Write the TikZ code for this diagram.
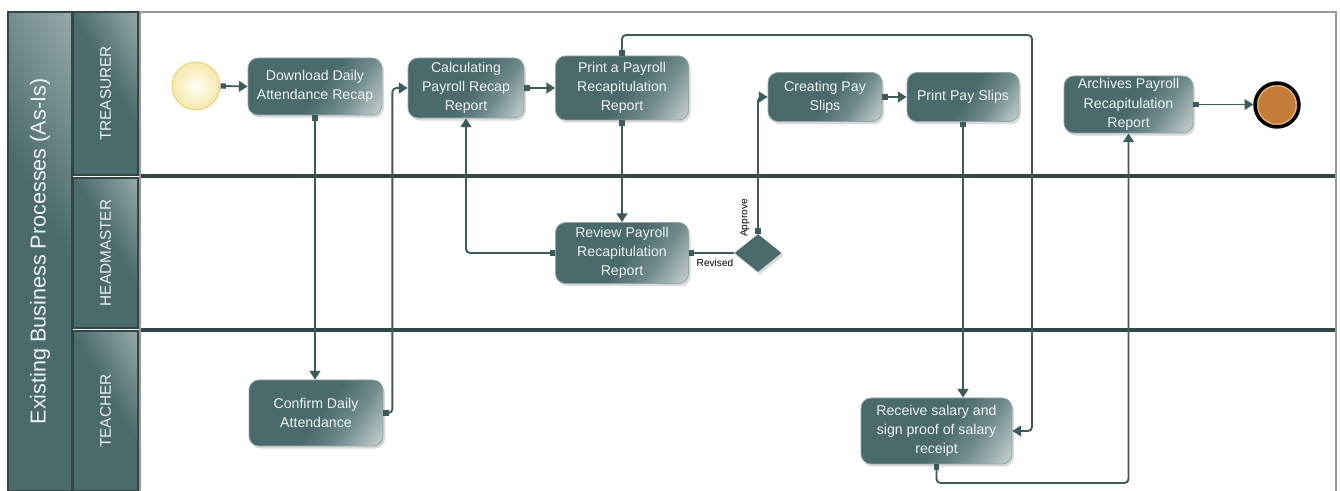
\documentclass[tikz,border=0pt]{standalone}
\usepackage{fontspec}
\setmainfont{Liberation Sans}
\usetikzlibrary{arrows.meta,shapes.geometric,shadows,calc}
\definecolor{boxc}{HTML}{4B6A6B}
\definecolor{boxm}{HTML}{6F8A8B}
\definecolor{boxl}{HTML}{BCC8C8}
\definecolor{lanel}{HTML}{98ABAB}
\definecolor{linec}{HTML}{3E5B5C}
\definecolor{sepc}{HTML}{334646}
\definecolor{txtc}{HTML}{EEF2F2}
\definecolor{poolc}{HTML}{9A9A9A}
\definecolor{endc}{HTML}{C47D38}
\definecolor{endr}{HTML}{E3B47A}
\pgfdeclarehorizontalshading{boxshade}{100bp}{color(0bp)=(boxc); color(52bp)=(boxc); color(66bp)=(boxm); color(82bp)=(boxl); color(100bp)=(boxl)}
\pgfdeclarehorizontalshading{laneshade}{100bp}{color(0bp)=(boxc); color(55bp)=(boxc); color(85bp)=(lanel); color(100bp)=(lanel)}
\tikzset{
  task/.style={rounded corners=7.5pt, shade, shading=boxshade, shading angle=-35,
    draw=boxc!60!white, line width=0.6pt, text=txtc, align=center,
    font=\fontsize{10.6}{14.4}\selectfont, inner sep=0pt,
    drop shadow={shadow xshift=1.5pt, shadow yshift=-2pt, opacity=0.15, fill=black}},
  lanehead/.style={rotate=90, shade, shading=laneshade, shading angle=30, draw=sepc,
    line width=0.8pt, text=txtc, inner sep=0pt, font=\fontsize{11.5}{13}\selectfont},
  conn/.style={draw=linec, line width=1.4pt, rounded corners=3pt,
    arrows={Square[length=4pt,width=4pt]-Triangle[length=6.5pt,width=8pt]}},
  plainconn/.style={draw=linec, line width=1.4pt,
    arrows={Square[length=4pt,width=4pt]-}},
  small/.style={font=\fontsize{7.6}{9}\selectfont, text=black, inner sep=0pt}
}
\begin{document}
\begin{tikzpicture}[x=0.75pt,y=-0.75pt]
\useasboundingbox (0,0) rectangle (1340,491);
% pool
\fill[white] (140,12) rectangle (1336,491);
\draw[poolc, line width=2pt] (140,495) -- (140,12) -- (1336,12) -- (1336,495);
\draw[sepc, line width=3pt] (141,176) -- (1335,176);
\draw[sepc, line width=3pt] (141,330) -- (1335,330);
% title band and lane headers
\node[lanehead, minimum width=359.25pt, minimum height=48pt, font=\fontsize{16.2}{18}\selectfont] (title) at (40,251.5) {Existing Business Processes (As-Is)};
\node[lanehead, minimum width=122.25pt, minimum height=48.75pt] (ltre) at (105.5,93.5) {TREASURER};
\node[lanehead, minimum width=112.5pt, minimum height=48.75pt] (lhead) at (105.5,253) {HEADMASTER};
\node[lanehead, minimum width=120pt, minimum height=48.75pt] (lteach) at (105.5,411) {TEACHER};
% events
\node[circle, minimum size=36pt, inner sep=0pt, inner color=yellow!4, outer color={rgb,255:red,245;green,232;blue,170}, draw={rgb,255:red,232;green,214;blue,130}, line width=0.8pt] (start) at (196,86) {};
\node[circle, minimum size=33pt, inner sep=0pt, fill=endc, draw=black, line width=2.6pt] (end) at (1277,105) {};
\draw[endr, line width=0.8pt] (end.center) circle (14.4pt);
% tasks
\node[task, minimum width=100.5pt, minimum height=42.75pt] (dl) at (315,86.5) {Download Daily\\Attendance Recap};
\node[task, minimum width=87pt, minimum height=45pt] (calc) at (466,88) {Calculating\\Payroll Recap\\Report};
\node[task, minimum width=99.75pt, minimum height=48pt] (prt) at (622,88) {Print a Payroll\\Recapitulation\\Report};
\node[task, minimum width=85.5pt, minimum height=36.75pt] (cps) at (825,97) {Creating Pay\\Slips};
\node[task, minimum width=84pt, minimum height=36.75pt] (pps) at (963,97) {Print Pay Slips};
\node[task, minimum width=96.75pt, minimum height=42.75pt] (arch) at (1128.5,104.5) {Archives Payroll\\Recapitulation\\Report};
\node[task, minimum width=99.75pt, minimum height=45.75pt] (rev) at (622,253) {Review Payroll\\Recapitulation\\Report};
\node[task, minimum width=100.5pt, minimum height=49.5pt] (conf) at (316,413) {Confirm Daily\\Attendance};
\node[task, minimum width=113.25pt, minimum height=49.5pt] (recv) at (936.5,431) {Receive salary and\\sign proof of salary\\receipt};
\node[diamond, minimum width=35.25pt, minimum height=28.5pt, inner sep=0pt, fill=boxc,
  drop shadow={shadow xshift=1.5pt, shadow yshift=-2pt, opacity=0.15, fill=black}] (dia) at (758,253) {};
% connectors
\draw[conn] (start.east) -- (dl.west);
\draw[conn] (dl.south) -- (dl.south |- conf.north);
\draw[conn] (conf.east) -- ++(9,0) |- (calc.west);
\draw[conn] (calc.east) -- (prt.west);
\draw[conn] (prt.south) -- (rev.north);
\draw[conn] (rev.west) -| (calc.south);
\draw[plainconn] (rev.east) -- (dia.west);
\draw[conn] (dia.north) |- (cps.west);
\draw[conn] (cps.east) -- (pps.west);
\draw[conn] (pps.south) -- (pps.south |- recv.north);
\coordinate (c11) at (1032,35);
\draw[conn] (prt.north) |- (c11) |- (recv.east);
\coordinate (c12) at (1128.5,483);
\draw[conn] (recv.south) |- (c12) -- (arch.south);
\draw[conn] (arch.east) -- (arch.east -| end.west);
% labels
\node[small] (lrev) at (715,263) {Revised};
\node[small, rotate=90] (lapp) at (745,218) {Approve};
\end{tikzpicture}
\end{document}
